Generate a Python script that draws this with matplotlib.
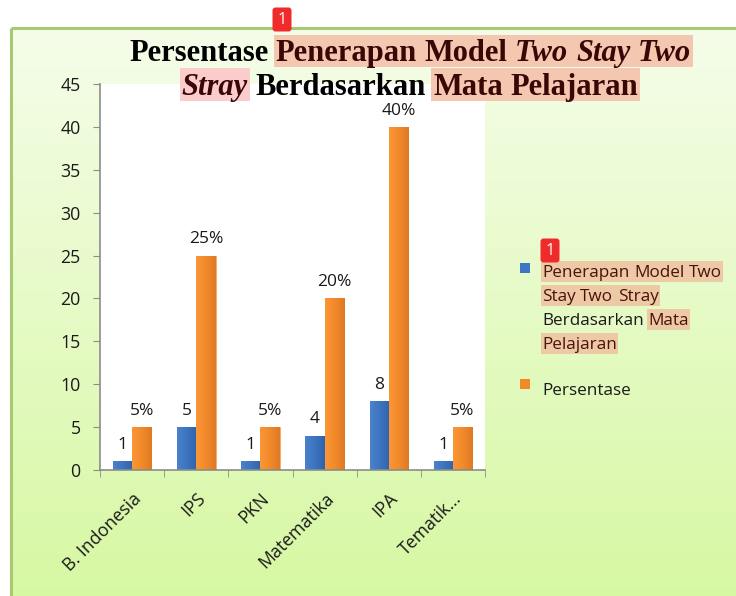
import numpy as np
import matplotlib.pyplot as plt
from matplotlib.colors import LinearSegmentedColormap
from matplotlib.patches import Rectangle, FancyBboxPatch

categories = ['B. Indonesia', 'IPS', 'PKN', 'Matematika', 'IPA', 'Tematik...']
jumlah = [1, 5, 1, 4, 8, 1]
persentase = [5, 25, 5, 20, 40, 5]
yticks = [0, 5, 10, 15, 20, 25, 30, 35, 40, 45]

W, H = 736, 596
SANS = ['Open Sans', 'DejaVu Sans']
SERIF = ['Liberation Serif', 'DejaVu Serif']
BLUE = '#3f76c2'
ORANGE = '#f38a2a'
SALMON = '#f4c8b0'
PINK = '#fbcccc'
MAROON = '#3a0606'

fig = plt.figure(figsize=(W / 100, H / 100), dpi=100)
fig.patch.set_facecolor('white')

# background panel with vertical green gradient (pixel coords, y down)
bg = fig.add_axes([0, 0, 1, 1], zorder=0)
bg.set_xlim(0, W)
bg.set_ylim(H, 0)
bg.axis('off')
cmap = LinearSegmentedColormap.from_list('g', ['#f5fde9', '#d7f8a3'])
bg.imshow(np.linspace(0, 1, 256)[:, None], extent=(11, W, H, 28), cmap=cmap, aspect='auto')
bg.plot([11, 11], [H, 27.5], color='#a7c971', lw=2.2, solid_capstyle='butt')
bg.plot([11, W], [27.5, 27.5], color='#a7c971', lw=2.2, solid_capstyle='butt')
bg.set_xlim(0, W)
bg.set_ylim(H, 0)

# chart
ax = fig.add_axes([100 / W, 1 - 470 / H, 385 / W, 386 / H], zorder=1)
ax.set_facecolor('white')
x = np.arange(len(categories))
w = 0.3
b1 = ax.bar(x - w / 2, jumlah, w, color=BLUE, edgecolor='#5a8ad0', linewidth=0.5)
b2 = ax.bar(x + w / 2, persentase, w, color=ORANGE, edgecolor='#f6a25a', linewidth=0.5)

# soft horizontal shading inside the bars
blue_cm = LinearSegmentedColormap.from_list('b', ['#4a82cc', '#3d74c0', '#2f63ab'])
orange_cm = LinearSegmentedColormap.from_list('o', ['#fa9636', '#f38a2a', '#df7a24'])
shade = np.linspace(0, 1, 64)[None, :]
for bars, cm in [(b1, blue_cm), (b2, orange_cm)]:
    for p in bars:
        x0, y0 = p.get_x(), p.get_y()
        im = ax.imshow(shade, extent=(x0, x0 + p.get_width(), y0, y0 + p.get_height()),
                       cmap=cm, aspect='auto', zorder=2)
        im.set_clip_path(p)

ax.bar_label(b1, labels=[str(v) for v in jumlah], padding=6, fontsize=12.5,
             family=SANS, color='#1a1a1a')
ax.bar_label(b2, labels=[f'{v}%' for v in persentase], padding=6, fontsize=12.5,
             family=SANS, color='#1a1a1a')
ax.set_xlim(-0.5, len(categories) - 0.5)
ax.set_ylim(0, 45)
ax.set_yticks(yticks)
ax.set_xticks(x)
ax.set_xticklabels(categories, rotation=45, ha='right', rotation_mode='anchor')
ax.set_xticks(np.arange(len(categories) + 1) - 0.5, minor=True)
ax.tick_params(axis='x', which='major', length=0, pad=14)
ax.tick_params(axis='x', which='minor', length=5, color='#8c8c8c', direction='out')
ax.tick_params(axis='y', length=5, color='#8c8c8c', pad=9)
for lab in ax.get_xticklabels() + ax.get_yticklabels():
    lab.set_fontfamily(SANS)
    lab.set_fontsize(12.8)
    lab.set_color('#1a1a1a')
for s in ['top', 'right']:
    ax.spines[s].set_visible(False)
for s in ['left', 'bottom']:
    ax.spines[s].set_color('#8c8c8c')
    ax.spines[s].set_linewidth(1.2)

# overlay for title, legend, badges
fg = fig.add_axes([0, 0, 1, 1], zorder=5)
fg.set_xlim(0, W)
fg.set_ylim(H, 0)
fg.axis('off')
fg.patch.set_alpha(0)

renderer = fig.canvas.get_renderer()


def rich_line(tokens, xpos, ybase, size, family, ha, hl_top, hl_bot, hl_pad=2):
    items = []
    for word, weight, style, color, hl in tokens:
        t = fg.text(0, ybase, word, fontsize=size, family=family, weight=weight,
                    style=style, color=color, va='baseline', ha='left', zorder=6)
        items.append([t, t.get_window_extent(renderer).width, hl])
    a = fg.text(0, 0, 'nn', fontsize=size, family=family, weight=tokens[0][1])
    b = fg.text(0, 0, 'n n', fontsize=size, family=family, weight=tokens[0][1])
    sp = b.get_window_extent(renderer).width - a.get_window_extent(renderer).width
    a.remove()
    b.remove()
    total = sum(it[1] for it in items) + sp * (len(items) - 1)
    cur = xpos - total / 2 if ha == 'center' else xpos
    spans = []
    for t, wd, hl in items:
        t.set_x(cur)
        spans.append((cur, cur + wd, hl))
        cur += wd + sp
    i = 0
    while i < len(spans):
        if spans[i][2] is None:
            i += 1
            continue
        j = i
        while j + 1 < len(spans) and spans[j + 1][2] == spans[i][2]:
            j += 1
        x0 = spans[i][0] - hl_pad
        x1 = spans[j][1] + hl_pad
        fg.add_patch(Rectangle((x0, hl_top), x1 - x0, hl_bot - hl_top,
                               facecolor=spans[i][2], edgecolor='none', zorder=5))
        i = j + 1


# title
title1 = [('Persentase', 'bold', 'normal', 'black', None),
          ('Penerapan', 'bold', 'normal', MAROON, SALMON),
          ('Model', 'bold', 'normal', MAROON, SALMON),
          ('Two', 'bold', 'italic', MAROON, SALMON),
          ('Stay', 'bold', 'italic', MAROON, SALMON),
          ('Two', 'bold', 'italic', MAROON, SALMON)]
title2 = [('Stray', 'bold', 'italic', MAROON, PINK),
          ('Berdasarkan', 'bold', 'normal', 'black', None),
          ('Mata', 'bold', 'normal', MAROON, SALMON),
          ('Pelajaran', 'bold', 'normal', MAROON, SALMON)]
rich_line(title1, 410, 61, 22, SERIF, 'center', 35, 67)
rich_line(title2, 410, 95, 22, SERIF, 'center', 68, 101)

# legend
LEG_HL = '#eec9a6'
LEG_TXT = '#4a1208'
fg.add_patch(Rectangle((520, 263), 10, 10, facecolor=BLUE, edgecolor='none'))
fg.add_patch(Rectangle((520, 379), 10, 10, facecolor=ORANGE, edgecolor='none'))
leg_lines = [
    [('Penerapan', 'normal', 'normal', LEG_TXT, LEG_HL),
     ('Model', 'normal', 'normal', LEG_TXT, LEG_HL),
     ('Two', 'normal', 'normal', LEG_TXT, LEG_HL)],
    [('Stay', 'normal', 'normal', LEG_TXT, LEG_HL),
     ('Two', 'normal', 'normal', LEG_TXT, LEG_HL),
     ('Stray', 'normal', 'normal', LEG_TXT, LEG_HL)],
    [('Berdasarkan', 'normal', 'normal', '#1a1a1a', None),
     ('Mata', 'normal', 'normal', LEG_TXT, LEG_HL)],
    [('Pelajaran', 'normal', 'normal', LEG_TXT, LEG_HL)],
]
for k, line in enumerate(leg_lines):
    yb = 277 + 24 * k
    rich_line(line, 542, yb, 12.3, SANS, 'left', yb - 16, yb + 5, hl_pad=1)
fg.text(542, 395, 'Persentase', fontsize=12.3, family=SANS, color='#1a1a1a',
        va='baseline', ha='left')

# red annotation badges
for cx, cy in [(282, 19), (550, 250)]:
    fg.add_patch(FancyBboxPatch((cx - 8, cy - 10), 16, 21,
                                boxstyle='round,pad=1.5,rounding_size=3',
                                facecolor='#ef2b2b', edgecolor='none', zorder=8))
    fg.text(cx, cy + 1, '1', fontsize=11.5, family=SANS, color='white',
            ha='center', va='center', zorder=9)

fig.savefig('out.png', dpi=100)
